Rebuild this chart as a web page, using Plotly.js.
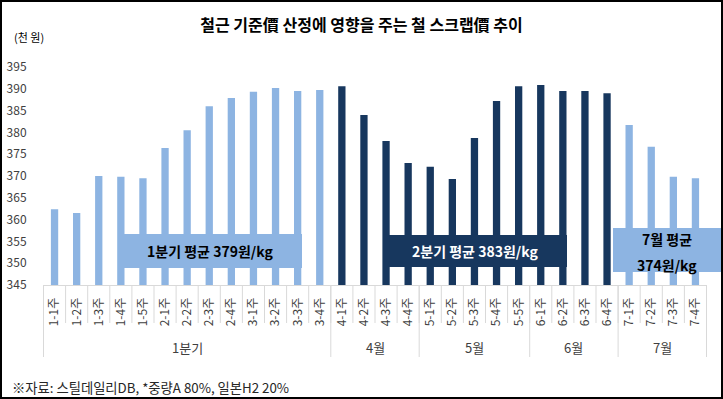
<!DOCTYPE html>
<html>
<head>
<meta charset="utf-8">
<script src="https://cdn.plot.ly/plotly-3.0.1.min.js"></script>
<style>
  html, body { margin: 0; padding: 0; background: #fff; }
  #wrap { position: relative; width: 723px; height: 399px; }
  #chart { width: 723px; height: 399px; }
  #frame { position: absolute; left: 0; top: 0; width: 723px; height: 399px; box-sizing: border-box; border: 2px solid #000; pointer-events: none; }
</style>
</head>
<body>
<div id="wrap"><div id="chart"></div><div id="frame"></div></div>
<script>
// ---- data ----
const weeks = ["1-1주","1-2주","1-3주","1-4주","1-5주","2-1주","2-2주","2-3주","2-4주","3-1주","3-2주","3-3주","3-4주",
               "4-1주","4-2주","4-3주","4-4주","5-1주","5-2주","5-3주","5-4주","5-5주","6-1주","6-2주","6-3주","6-4주",
               "7-1주","7-2주","7-3주","7-4주"];
const prices = [362.4, 361.5, 370.0, 369.8, 369.5, 376.4, 380.5, 386.0, 387.9, 389.3, 390.2, 389.5, 389.7,
                390.6, 384.0, 378.0, 373.0, 372.1, 369.3, 378.7, 387.2, 390.6, 390.9, 389.5, 389.5, 389.0,
                381.7, 376.7, 369.8, 369.5];
const groupNames = ["1분기", "4월", "5월", "6월", "7월"];
const groupSizes = [13, 4, 5, 4, 4];
const avgNames = ["1분기 평균", "2분기 평균", "7월 평균"];
const avgValues = [379, 383, 374];
const q2Months = ["4", "5", "6"];
const yTickVals = [345, 350, 355, 360, 365, 370, 375, 380, 385, 390, 395];

// ---- style ----
const LIGHT = "#8db4e2";
const DARK = "#17375e";
const FONT = "Noto Sans CJK KR, Noto Sans, sans-serif";
const GRID = "#d9d9d9";
const TXT = "#404040";

// plot-area geometry helpers (pixel -> paper)
const L = 43, R = 707, T = 67, B = 285;
const px = x => (x - L) / (R - L);
const py = y => (B - y) / (B - T);

const colors = weeks.map(w => q2Months.includes(w.charAt(0)) ? DARK : LIGHT);

const trace = {
  type: "bar",
  x: weeks,
  y: prices,
  marker: { color: colors },
  hoverinfo: "x+y",
  cliponaxis: true
};

const shapes = [];
// small separators between weeks
for (let i = 1; i < weeks.length; i++) {
  shapes.push({ type: "line", xref: "x", yref: "paper", x0: i - 0.5, x1: i - 0.5, y0: 0, y1: py(323),
                line: { color: GRID, width: 1 } });
}
// group separators
let acc = 0;
const bounds = [-0.5];
groupSizes.forEach(s => { acc += s; bounds.push(acc - 0.5); });
bounds.forEach(b => {
  shapes.push({ type: "line", xref: "x", yref: "paper", x0: b, x1: b, y0: 0, y1: py(357),
                line: { color: GRID, width: 1 } });
});

// average boxes
const boxes = [
  { x0: 118, x1: 302, y0: 234, y1: 268, fill: LIGHT },
  { x0: 383, x1: 567, y0: 235, y1: 267, fill: DARK },
  { x0: 613, x1: 721, y0: 228, y1: 272, fill: LIGHT }
];
boxes.forEach(b => {
  shapes.push({ type: "rect", xref: "paper", yref: "paper", layer: "above",
                x0: px(b.x0), x1: px(b.x1), y0: py(b.y1), y1: py(b.y0),
                fillcolor: b.fill, line: { width: 0 } });
});

const annotations = [];
// group labels
let start = 0;
groupNames.forEach((g, k) => {
  const mid = start + (groupSizes[k] - 1) / 2;
  annotations.push({ xref: "x", yref: "paper", x: mid, y: py(347), text: g, showarrow: false,
                     xanchor: "center", yanchor: "middle", font: { family: FONT, size: 13, color: TXT } });
  start += groupSizes[k];
});
// average texts
annotations.push({ xref: "paper", yref: "paper", x: px(210), y: py(251), showarrow: false,
  text: "<b>" + avgNames[0] + " " + avgValues[0] + "원/kg</b>", xanchor: "center", yanchor: "middle",
  font: { family: FONT, size: 14, color: "#000" } });
annotations.push({ xref: "paper", yref: "paper", x: px(475), y: py(251), showarrow: false,
  text: "<b>" + avgNames[1] + " " + avgValues[1] + "원/kg</b>", xanchor: "center", yanchor: "middle",
  font: { family: FONT, size: 14, color: "#fff" } });
annotations.push({ xref: "paper", yref: "paper", x: px(667), y: py(239), showarrow: false,
  text: "<b>" + avgNames[2] + "</b>", xanchor: "center", yanchor: "middle",
  font: { family: FONT, size: 14, color: "#000" } });
annotations.push({ xref: "paper", yref: "paper", x: px(667), y: py(265), showarrow: false,
  text: "<b>" + avgValues[2] + "원/kg</b>", xanchor: "center", yanchor: "middle",
  font: { family: FONT, size: 14, color: "#000" } });
// unit label
annotations.push({ xref: "paper", yref: "paper", x: px(12), y: py(37), showarrow: false,
  text: "(천 원)", xanchor: "left", yanchor: "middle",
  font: { family: FONT, size: 11, color: "#000" } });
// footer
annotations.push({ xref: "paper", yref: "paper", x: px(10), y: py(387), showarrow: false,
  text: "※자료: 스틸데일리DB, *중량A 80%, 일본H2 20%", xanchor: "left", yanchor: "middle",
  font: { family: FONT, size: 13.3, color: "#262626" } });

const layout = {
  width: 723, height: 399,
  margin: { l: L, r: 723 - R, t: T, b: 399 - B, pad: 0 },
  paper_bgcolor: "#fff", plot_bgcolor: "#fff",
  showlegend: false,
  bargap: 0.67,
  title: { text: "<b>철근 기준價 산정에 영향을 주는 철 스크랩價 추이</b>",
           font: { family: FONT, size: 16, color: "#000" },
           x: 0.5, xref: "container", xanchor: "center", y: 1 - 25 / 399, yref: "container", yanchor: "middle" },
  xaxis: {
    type: "category",
    tickangle: -90,
    ticks: "outside", ticklen: 7, tickcolor: "rgba(0,0,0,0)",
    showline: true, linecolor: GRID, linewidth: 1,
    showgrid: false, zeroline: false,
    tickfont: { family: FONT, size: 12, color: TXT },
    fixedrange: true
  },
  yaxis: {
    range: [345, 395],
    tickvals: yTickVals,
    ticks: "outside", ticklen: 13, tickcolor: "rgba(0,0,0,0)",
    showline: false, showgrid: false, zeroline: false,
    tickfont: { family: FONT, size: 12, color: TXT },
    fixedrange: true
  },
  shapes: shapes,
  annotations: annotations
};

Plotly.newPlot("chart", [trace], layout, { displayModeBar: false, staticPlot: true });
</script>
</body>
</html>
